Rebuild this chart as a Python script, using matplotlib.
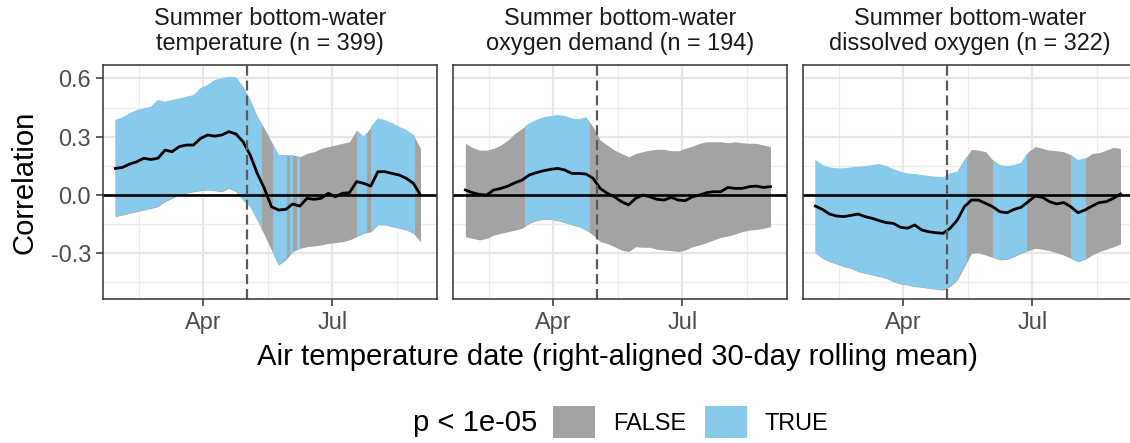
import matplotlib
matplotlib.use("Agg")
import numpy as np
import pandas as pd
import matplotlib.pyplot as plt
from matplotlib.patches import Patch

plt.rcParams["font.family"] = ["Liberation Sans", "DejaVu Sans"]

# ---------------- data ----------------
DATES = pd.date_range("2021-01-29", periods=44, freq="5D")

TITLES = [
    ("Summer bottom-water", "temperature (n = 399)"),
    ("Summer bottom-water", "oxygen demand (n = 194)"),
    ("Summer bottom-water", "dissolved oxygen (n = 322)"),
]

P1_R = [0.137, 0.142, 0.159, 0.171, 0.189, 0.183, 0.189, 0.231, 0.223, 0.249,
        0.257, 0.257, 0.291, 0.309, 0.303, 0.309, 0.326, 0.314, 0.274, 0.206,
        0.111, 0.034, -0.060, -0.077, -0.074, -0.046, -0.057, -0.017, -0.022, -0.017,
        0.009, -0.009, 0.009, 0.012, 0.069, 0.060, 0.046, 0.120, 0.120, 0.111,
        0.103, 0.086, 0.060, 0.000]
P1_HI = [0.386, 0.400, 0.420, 0.437, 0.446, 0.454, 0.489, 0.480, 0.489, 0.497,
         0.506, 0.514, 0.549, 0.566, 0.591, 0.600, 0.609, 0.605, 0.557, 0.489,
         0.403, 0.343, 0.274, 0.206, 0.206, 0.206, 0.197, 0.214, 0.223, 0.240,
         0.249, 0.257, 0.266, 0.274, 0.334, 0.300, 0.350, 0.394, 0.386, 0.369,
         0.351, 0.334, 0.309, 0.240]
P1_LO = [-0.111, -0.103, -0.094, -0.086, -0.077, -0.069, -0.060, -0.034, -0.017, 0.000,
         0.009, 0.017, 0.022, 0.026, 0.022, 0.017, 0.034, 0.017, -0.026, -0.060,
         -0.129, -0.206, -0.283, -0.360, -0.334, -0.291, -0.274, -0.266, -0.262, -0.257,
         -0.249, -0.245, -0.240, -0.231, -0.214, -0.197, -0.189, -0.154, -0.154, -0.163,
         -0.171, -0.180, -0.197, -0.240]
P1_TRUE = [("2021-01-29", "2021-05-12"), ("2021-05-20", "2021-05-30"),
           ("2021-06-01", "2021-06-03"), ("2021-06-06", "2021-06-08"),
           ("2021-07-18", "2021-07-25"), ("2021-07-28", "2021-08-28")]

P2_R = [0.026, 0.012, 0.003, 0.000, 0.026, 0.034, 0.046, 0.063, 0.077, 0.103,
        0.115, 0.125, 0.132, 0.137, 0.129, 0.111, 0.111, 0.108, 0.086, 0.034,
        0.009, -0.009, -0.034, -0.051, -0.017, 0.000, -0.009, -0.022, -0.026, -0.012,
        -0.026, -0.029, -0.009, 0.000, 0.012, 0.017, 0.017, 0.039, 0.034, 0.034,
        0.043, 0.046, 0.039, 0.043]
P2_HI = [0.266, 0.245, 0.231, 0.231, 0.240, 0.257, 0.283, 0.317, 0.343, 0.369,
         0.386, 0.400, 0.406, 0.411, 0.406, 0.394, 0.389, 0.400, 0.351, 0.283,
         0.257, 0.231, 0.214, 0.197, 0.214, 0.223, 0.231, 0.235, 0.235, 0.228,
         0.228, 0.240, 0.252, 0.266, 0.274, 0.274, 0.274, 0.269, 0.274, 0.269,
         0.266, 0.266, 0.257, 0.249]
P2_LO = [-0.214, -0.223, -0.231, -0.223, -0.206, -0.197, -0.189, -0.180, -0.171, -0.146,
         -0.132, -0.125, -0.125, -0.132, -0.142, -0.154, -0.163, -0.180, -0.206, -0.240,
         -0.249, -0.266, -0.283, -0.291, -0.266, -0.269, -0.269, -0.279, -0.283, -0.286,
         -0.291, -0.283, -0.266, -0.257, -0.245, -0.231, -0.218, -0.211, -0.201, -0.189,
         -0.180, -0.177, -0.171, -0.163]
P2_TRUE = [("2021-03-12", "2021-04-27")]

P3_R = [-0.057, -0.074, -0.098, -0.108, -0.111, -0.105, -0.098, -0.111, -0.120, -0.132,
        -0.142, -0.146, -0.166, -0.171, -0.154, -0.180, -0.189, -0.194, -0.197, -0.171,
        -0.129, -0.060, -0.026, -0.026, -0.043, -0.060, -0.086, -0.091, -0.074, -0.063,
        -0.034, -0.005, -0.012, -0.034, -0.046, -0.039, -0.060, -0.091, -0.077, -0.057,
        -0.039, -0.034, -0.017, 0.005]
P3_HI = [0.180, 0.154, 0.142, 0.137, 0.137, 0.142, 0.146, 0.149, 0.154, 0.159,
         0.149, 0.132, 0.120, 0.111, 0.108, 0.103, 0.098, 0.094, 0.091, 0.111,
         0.120, 0.180, 0.235, 0.231, 0.223, 0.180, 0.154, 0.149, 0.154, 0.166,
         0.223, 0.249, 0.240, 0.231, 0.228, 0.223, 0.206, 0.180, 0.189, 0.214,
         0.218, 0.231, 0.245, 0.240]
P3_LO = [-0.297, -0.326, -0.343, -0.355, -0.369, -0.377, -0.394, -0.403, -0.411, -0.420,
         -0.429, -0.446, -0.458, -0.463, -0.471, -0.475, -0.480, -0.485, -0.489, -0.471,
         -0.437, -0.369, -0.300, -0.297, -0.309, -0.321, -0.334, -0.331, -0.317, -0.300,
         -0.286, -0.274, -0.279, -0.286, -0.297, -0.309, -0.326, -0.343, -0.331, -0.309,
         -0.291, -0.279, -0.266, -0.252]
P3_TRUE = [("2021-01-29", "2021-05-16"), ("2021-06-03", "2021-06-27"),
           ("2021-07-28", "2021-08-08")]

VLINE_DATE = "2021-05-02"
X_TICKS = ["2021-04-01", "2021-07-01"]
X_TICK_LABELS = ["Apr", "Jul"]
X_MINOR = ["2021-02-14T12", "2021-05-16T12", "2021-08-15T12"]
Y_TICKS = [-0.3, 0.0, 0.3, 0.6]
Y_TICK_LABELS = ["-0.3", "0.0", "0.3", "0.6"]
Y_MINOR = [-0.45, -0.15, 0.15, 0.45]
LEGEND_TITLE = "p < 1e-05"
LEGEND_LABELS = ["FALSE", "TRUE"]

PANELS = [(P1_R, P1_LO, P1_HI, P1_TRUE),
          (P2_R, P2_LO, P2_HI, P2_TRUE),
          (P3_R, P3_LO, P3_HI, P3_TRUE)]

# ---------------- style ----------------
GREY = "#A3A3A3"
BLUE = "#87CAEB"
W, H = 1130, 443
BASE = 21.1
SMALL = 16.9

fig = plt.figure(figsize=(W / 100, H / 100), dpi=100)
fig.patch.set_facecolor("white")

for i, (r, lo, hi, sig) in enumerate(PANELS):
    left = 102.7 + 350 * i
    right = left + 334.5
    top, bottom = 65, 299
    ax = fig.add_axes([left / W, 1 - bottom / H, (right - left) / W, (bottom - top) / H])
    ax.set_facecolor("white")

    rib = ax.fill_between(DATES, lo, hi, color=GREY, lw=0, zorder=1)
    clip_path = rib.get_paths()[0]
    for s, e in sig:
        span = ax.axvspan(pd.Timestamp(s), pd.Timestamp(e), color=BLUE, lw=0, zorder=2)
        span.set_clip_path(clip_path, ax.transData)

    ax.axhline(0, color="black", lw=1.9, zorder=3)
    ax.plot(DATES, r, color="black", lw=2.0, zorder=4, solid_joinstyle="round")
    ax.axvline(pd.Timestamp(VLINE_DATE), color="#5A5A5A", lw=1.6, dashes=(4.5, 2.2), zorder=5)

    ax.set_xlim(pd.Timestamp("2021-01-20 02:00"), pd.Timestamp("2021-09-12 19:00"))
    ax.set_ylim(-0.535, 0.669)
    ax.set_xticks([pd.Timestamp(t) for t in X_TICKS])
    ax.set_xticklabels(X_TICK_LABELS)
    ax.set_xticks([pd.Timestamp(t) for t in X_MINOR], minor=True)
    ax.set_yticks(Y_TICKS)
    ax.set_yticklabels(Y_TICK_LABELS)
    ax.set_yticks(Y_MINOR, minor=True)

    ax.grid(which="major", color="#E6E6E6", lw=1.6)
    ax.grid(which="minor", color="#EBEBEB", lw=0.9)
    ax.set_axisbelow(True)
    for sp in ax.spines.values():
        sp.set_color("#333333")
        sp.set_linewidth(1.1)
        sp.set_zorder(6)

    ax.tick_params(which="major", length=5, width=1.1, color="#333333",
                   labelsize=SMALL, labelcolor="#4D4D4D", pad=3.5)
    ax.tick_params(which="minor", length=0)
    if i > 0:
        ax.tick_params(axis="y", left=False, labelleft=False)

    l1, l2 = TITLES[i]
    ax.text(0.5, 1 + 40 / 234, l1, transform=ax.transAxes, ha="center",
            va="baseline", fontsize=SMALL, color="#1A1A1A")
    ax.text(0.5, 1 + 15 / 234, l2, transform=ax.transAxes, ha="center",
            va="baseline", fontsize=SMALL, color="#1A1A1A")

fig.text(25 / W, 1 - 182 / H, "Correlation", rotation=90, ha="center", va="center",
         fontsize=BASE, color="black")
fig.text(617.7 / W, 1 - 365 / H, "Air temperature date (right-aligned 30-day rolling mean)",
         ha="center", va="baseline", fontsize=BASE, color="black")

fig.text(537 / W, 1 - 431 / H, LEGEND_TITLE, ha="right", va="baseline",
         fontsize=BASE, color="black")
handles = [Patch(facecolor=GREY, edgecolor="none"), Patch(facecolor=BLUE, edgecolor="none")]
fig.legend(handles, LEGEND_LABELS, loc="center left", bbox_to_anchor=(553 / W, 1 - 422 / H),
           ncol=2, frameon=False, fontsize=SMALL, handlelength=1.8, handleheight=1.67,
           handletextpad=0.77, columnspacing=0.77, borderpad=0, borderaxespad=0,
           labelcolor="black")

fig.savefig("out.png", dpi=100)
